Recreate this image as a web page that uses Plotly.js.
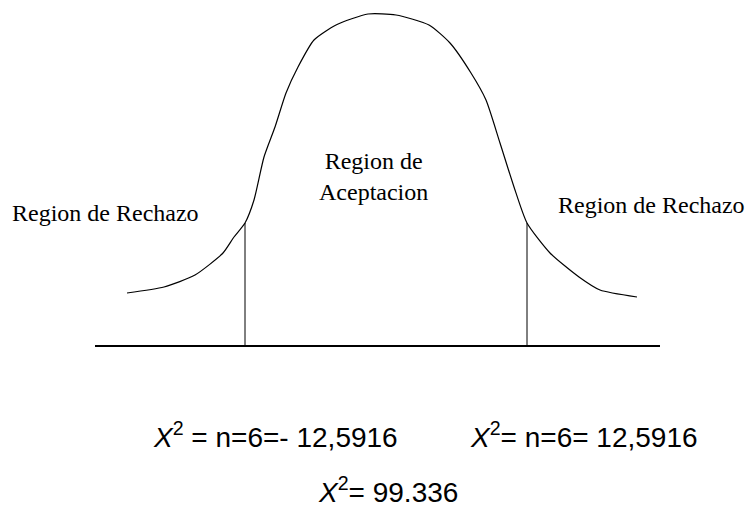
<!DOCTYPE html>
<html>
<head>
<meta charset="utf-8">
<script src="https://cdn.plot.ly/plotly-3.0.1.min.js"></script>
<style>html,body{margin:0;padding:0;background:#fff;}#chart{width:751px;height:515px;}</style>
</head>
<body>
<div id="chart"></div>
<script>
// Bell curve outline (x position, height above baseline)
const curveX = [127,164,195,223,234,245,254,264,275,286,298,314,336,368,396,429,450,471,486,500,514,527,550,579,600,637];
const curveY = [53,59,71,93,109,123,146,189,219,253,279,306,321,332,331,321,303,273,246,203,159,123,93,69,56,49];
// Critical values (x positions of vertical lines) and their curve heights
const critX = [245, 527];
const critY = [123, 123];
// Baseline extent
const baseX = [95, 660];
const baseY = [0, 0];
// Labels
const regionLabels = ["Region de Rechazo", "Region de<br>Aceptacion", "Region de Rechazo"];
const statLabels = ["<i>X</i><sup>2</sup> = n=6=- 12,5916", "<i>X</i><sup>2</sup>= n=6= 12,5916", "<i>X</i><sup>2</sup>= 99.336"];

const traces = [
  {x: curveX, y: curveY, mode: 'lines', line: {color: '#000', width: 1.2, shape: 'spline', smoothing: 0.6}, hoverinfo: 'skip'},
  {x: baseX, y: baseY, mode: 'lines', line: {color: '#000', width: 2}, hoverinfo: 'skip'},
  {x: [critX[0], critX[0]], y: [0, critY[0]], mode: 'lines', line: {color: '#000', width: 1}, hoverinfo: 'skip'},
  {x: [critX[1], critX[1]], y: [0, critY[1]], mode: 'lines', line: {color: '#000', width: 1}, hoverinfo: 'skip'}
];

const serif = {family: 'Liberation Serif, serif', size: 24, color: '#000'};
const sans = {family: 'Liberation Sans, Arial, sans-serif', size: 28, color: '#000'};

const annotations = [
  {x: 10, y: 133, text: regionLabels[0], font: serif, xanchor: 'left', yanchor: 'middle'},
  {x: 373, y: 170, text: regionLabels[1], font: serif, xanchor: 'center', yanchor: 'middle', align: 'center'},
  {x: 747, y: 141, text: regionLabels[2], font: serif, xanchor: 'right', yanchor: 'middle'},
  {x: 275, y: -89, text: statLabels[0], font: sans, xanchor: 'center', yanchor: 'middle'},
  {x: 584, y: -89, text: statLabels[1], font: sans, xanchor: 'center', yanchor: 'middle'},
  {x: 388, y: -144, text: statLabels[2], font: sans, xanchor: 'center', yanchor: 'middle'}
].map(a => Object.assign({xref: 'x', yref: 'y', showarrow: false}, a));

const layout = {
  width: 751, height: 515,
  margin: {l: 0, r: 0, t: 0, b: 0},
  paper_bgcolor: '#fff', plot_bgcolor: '#fff',
  showlegend: false,
  xaxis: {range: [0, 751], visible: false, fixedrange: true},
  yaxis: {range: [-169, 346], visible: false, fixedrange: true},
  annotations: annotations
};

Plotly.newPlot('chart', traces, layout, {displayModeBar: false, staticPlot: true});
</script>
</body>
</html>
